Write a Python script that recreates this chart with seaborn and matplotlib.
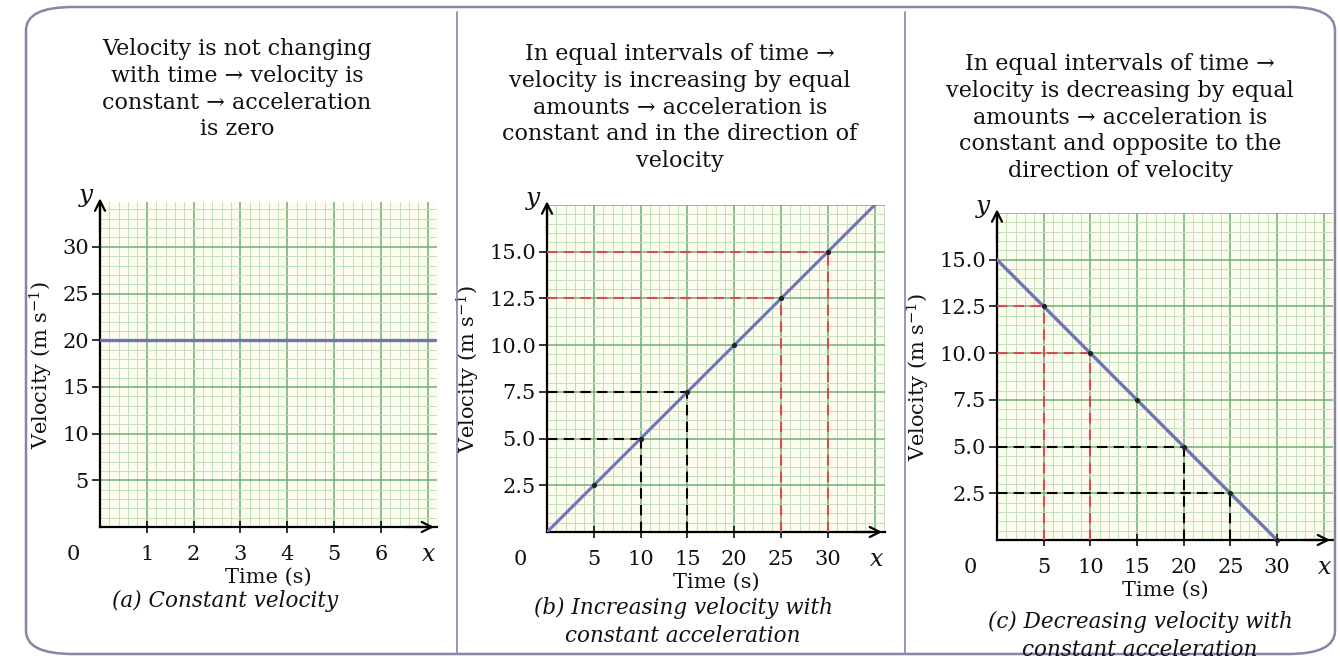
import numpy as np
import pandas as pd
import matplotlib
matplotlib.use("Agg")
import matplotlib.pyplot as plt
import seaborn as sns
from matplotlib.patches import FancyBboxPatch
from matplotlib.lines import Line2D

sns.set_style("white")
plt.rcParams["font.family"] = ["DejaVu Serif", "DejaVu Sans"]
plt.rcParams["mathtext.fontset"] = "dejavuserif"
plt.rcParams["text.color"] = "#111111"
plt.rcParams["axes.labelcolor"] = "#111111"
plt.rcParams["xtick.color"] = "#111111"
plt.rcParams["ytick.color"] = "#111111"

# ---- data ----
time_a = [0, 7.15]
vel_a = [20, 20]
xticks_a = [1, 2, 3, 4, 5, 6]
yticks_a = [5, 10, 15, 20, 25, 30]

time_b = [0, 5, 10, 15, 20, 25, 30, 35]
vel_b = [0, 2.5, 5.0, 7.5, 10.0, 12.5, 15.0, 17.5]
dots_b_t = [5, 10, 15, 20, 25, 30]
dots_b_v = [2.5, 5.0, 7.5, 10.0, 12.5, 15.0]
guides_b_t = [10, 15, 25, 30]
guides_b_v = [5.0, 7.5, 12.5, 15.0]
guides_b_c = ["black", "black", "red", "red"]

time_c = [0, 5, 10, 15, 20, 25, 30]
vel_c = [15.0, 12.5, 10.0, 7.5, 5.0, 2.5, 0.0]
dots_c_t = [5, 10, 15, 20, 25, 30]
dots_c_v = [12.5, 10.0, 7.5, 5.0, 2.5, 0.0]
guides_c_t = [5, 10, 20, 25]
guides_c_v = [12.5, 10.0, 5.0, 2.5]
guides_c_c = ["red", "red", "black", "black"]

xticks_bc = [5, 10, 15, 20, 25, 30]
yticks_bc = [2.5, 5.0, 7.5, 10.0, 12.5, 15.0]

headers = [
    "Velocity is not changing\nwith time \u2192 velocity is\nconstant \u2192 acceleration\nis zero",
    "In equal intervals of time \u2192\nvelocity is increasing by equal\namounts \u2192 acceleration is\nconstant and in the direction of\nvelocity",
    "In equal intervals of time \u2192\nvelocity is decreasing by equal\namounts \u2192 acceleration is\nconstant and opposite to the\ndirection of velocity",
]
captions = [
    "(a) Constant velocity",
    "(b) Increasing velocity with\nconstant acceleration",
    "(c) Decreasing velocity with\nconstant acceleration",
]

LINE_COL = "#7272b8"
RED = "#e0474c"
MAJOR = "#6fae72"
MINOR = "#c4dfbc"
PAPER = "#fcfdef"

W, H = 1340, 662
fig = plt.figure(figsize=(W / 100, H / 100), dpi=100)


def px_axes(left, right, bottom, top):
    return fig.add_axes([left / W, 1 - bottom / H, (right - left) / W, (bottom - top) / H])


def graph_paper(ax, xmax, ymax, xmaj, ymaj):
    ax.set_facecolor(PAPER)
    ax.set_xlim(0, xmax)
    ax.set_ylim(0, ymax)
    for x in np.arange(0, xmax + 1e-9, xmaj / 5):
        major = abs(x / xmaj - round(x / xmaj)) < 1e-6
        ax.axvline(x, color=MAJOR if major else MINOR, lw=1.1 if major else 0.7, zorder=0)
    for y in np.arange(0, ymax + 1e-9, ymaj / 5):
        major = abs(y / ymaj - round(y / ymaj)) < 1e-6
        ax.axhline(y, color=MAJOR if major else MINOR, lw=1.1 if major else 0.7, zorder=0)
    for s in ["top", "right"]:
        ax.spines[s].set_visible(False)
    for s in ["left", "bottom"]:
        ax.spines[s].set_linewidth(1.6)
        ax.spines[s].set_color("black")
    ax.annotate("", xy=(1.0, 0), xytext=(0.9, 0), xycoords="axes fraction",
                arrowprops=dict(arrowstyle="->", lw=1.6, color="black", mutation_scale=18),
                annotation_clip=False)
    ax.annotate("", xy=(0, 1.02), xytext=(0, 0.9), xycoords="axes fraction",
                arrowprops=dict(arrowstyle="->", lw=1.6, color="black", mutation_scale=18),
                annotation_clip=False)
    ax.tick_params(axis="both", labelsize=15, length=6, width=1.2, direction="out", left=True, bottom=True)
    ax.tick_params(axis="x", direction="inout", length=8, pad=9)
    ax.tick_params(axis="y", pad=2)
    ax.text(-0.02, 1.02, "y", transform=ax.transAxes, ha="right", va="center",
            fontsize=18, style="italic")
    ax.text(0.975, -0.085, "x", transform=ax.transAxes, ha="center", va="center",
            fontsize=17, style="italic")
    ax.text(-0.08, -0.085, "0", transform=ax.transAxes, ha="center", va="center", fontsize=15)
    ax.set_xlabel("Time (s)", fontsize=15, labelpad=3)
    ax.set_ylabel("Velocity (m s$^{-1}$)", fontsize=15, labelpad=5)


def guides(ax, ts, vs, cs):
    for t, v, c in zip(ts, vs, cs):
        col = RED if c == "red" else "black"
        ax.plot([0, t], [v, v], ls=(0, (5, 3)), color=col, lw=1.5, zorder=3)
        ax.plot([t, t], [0, v], ls=(0, (5, 3)), color=col, lw=1.5, zorder=3)


# ---- panel (a) ----
ax_a = px_axes(100, 437, 527, 202)
graph_paper(ax_a, 7.2, 34.8, 1, 5)
sns.lineplot(x=time_a, y=vel_a, ax=ax_a, color=LINE_COL, lw=2.4, zorder=4)
ax_a.set_xticks(xticks_a)
ax_a.set_yticks(yticks_a)

# ---- panel (b) ----
ax_b = px_axes(547, 885, 532, 205)
graph_paper(ax_b, 36.1, 17.5, 5, 2.5)
guides(ax_b, guides_b_t, guides_b_v, guides_b_c)
sns.lineplot(x=time_b, y=vel_b, ax=ax_b, color=LINE_COL, lw=2.2, zorder=4)
sns.scatterplot(x=dots_b_t, y=dots_b_v, ax=ax_b, color="#222222", s=14, zorder=5, linewidth=0)
ax_b.set_xticks(xticks_bc)
ax_b.set_yticks(yticks_bc)
ax_b.set_yticklabels([f"{v:.1f}" for v in yticks_bc])

# ---- panel (c) ----
ax_c = px_axes(997, 1333, 540, 213)
graph_paper(ax_c, 36.0, 17.5, 5, 2.5)
guides(ax_c, guides_c_t, guides_c_v, guides_c_c)
sns.lineplot(x=time_c, y=vel_c, ax=ax_c, color=LINE_COL, lw=2.4, zorder=4)
sns.scatterplot(x=dots_c_t, y=dots_c_v, ax=ax_c, color="#222222", s=14, zorder=5,
                linewidth=0, clip_on=False)
ax_c.set_xticks(xticks_bc)
ax_c.set_yticks(yticks_bc)
ax_c.set_yticklabels([f"{v:.1f}" for v in yticks_bc])

# ---- header texts and captions ----
header_pos = [(237, 38), (680, 43), (1120, 53)]
caption_pos = [(225, 601), (683, 622), (1140, 636)]
for txt, (x, y) in zip(headers, header_pos):
    fig.text(x / W, 1 - y / H, txt, ha="center", va="top", fontsize=16, linespacing=1.28)
for txt, (x, y) in zip(captions, caption_pos):
    fig.text(x / W, 1 - y / H, txt, ha="center", va="center", fontsize=15.5,
             style="italic", linespacing=1.3)

# ---- outer rounded frame and dividers ----
frame = FancyBboxPatch((26 / W, 8 / H), (1335 - 26) / W, (655 - 8) / H,
                       boxstyle="round,pad=0,rounding_size=0.035",
                       transform=fig.transFigure, fill=False, edgecolor="#8b84a8", lw=1.8)
fig.patches.append(frame)
for xd in [457, 905]:
    fig.lines.append(Line2D([xd / W, xd / W], [8 / H, 1 - 12 / H], transform=fig.transFigure,
                            color="#8b84a8", lw=1.2))

fig.savefig("out.png", dpi=100)
